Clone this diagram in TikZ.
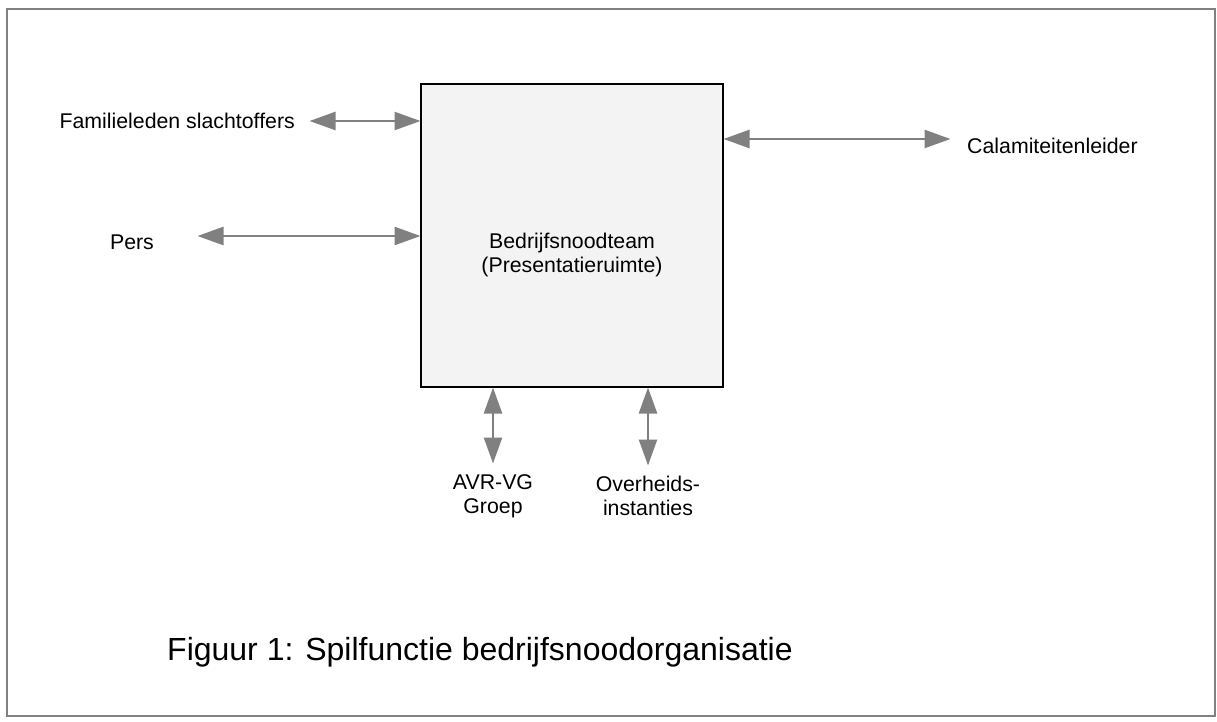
\documentclass[tikz,border=0pt]{standalone}
\usepackage{fontspec}
\setmainfont{Liberation Sans}
\usepackage{xcolor}
\usetikzlibrary{arrows.meta,positioning,calc}

\definecolor{linkgray}{HTML}{808080}
\definecolor{boxfill}{HTML}{F3F3F3}

\begin{document}
\begin{tikzpicture}[
  x=1pt, y=-1pt,
  team/.style={rectangle, draw=black, line width=2pt, fill=boxfill, minimum width=302pt, minimum height=303pt, inner sep=0pt},
  lbl/.style={inner sep=0pt, align=center, font=\fontsize{21.3}{24}\selectfont},
  caption/.style={inner sep=0pt, anchor=west, font=\fontsize{32}{36}\selectfont},
  link/.style={{Triangle[length=26pt,width=18pt]}-{Triangle[length=26pt,width=18pt]}, line width=2.5pt, draw=linkgray, color=linkgray, shorten <=-0.5pt, shorten >=-0.5pt}
]
  \useasboundingbox (0,0) rectangle (1217,721);
  % frame
  \draw[linkgray, line width=1.5pt] (7,9) rectangle (1215,716);

  % central team
  \node[team] (team) at (572,235.5) {};
  \node[lbl] (teamtxt) at (572,255) {Bedrijfsnoodteam\\(Presentatieruimte)};

  % partners
  \node[lbl, anchor=east] (fam) at (295,121) {Familieleden slachtoffers};
  \node[lbl] (pers) at (132,242) {Pers};
  \node[lbl, anchor=west] (cal) at (967,146) {Calamiteitenleider};
  \node[lbl] (avr) at (493,496) {AVR-VG\\Groep};
  \node[lbl] (overh) at (648,496) {Overheids-\\instanties};

  % end points of the connectors
  \coordinate (famend) at (310,121);
  \coordinate (persend) at (198,236);
  \coordinate (calend) at (950,139);
  \coordinate (avrend) at (493,463);
  \coordinate (overhend) at (648,465);

  \draw[link] (famend) -- (team.west |- famend);
  \draw[link] (persend) -- (team.west |- persend);
  \draw[link] (team.east |- calend) -- (calend);
  \draw[link] (team.south -| avrend) -- (avrend);
  \draw[link] (team.south -| overhend) -- (overhend);

  \node[caption] (cap) at (167,652) {Figuur 1: Spilfunctie bedrijfsnoodorganisatie};
\end{tikzpicture}
\end{document}
